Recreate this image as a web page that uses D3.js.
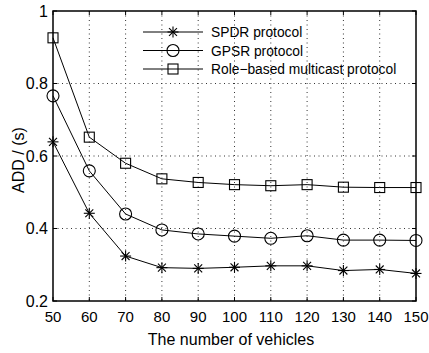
<!DOCTYPE html>
<html><head><meta charset="utf-8">
<script src="https://cdn.jsdelivr.net/npm/d3@7"></script>
<style>body{margin:0;background:#fff}svg{display:block}text{font-family:"Liberation Sans",Arial,sans-serif;fill:#000}</style>
</head><body><svg id="c" width="429" height="353"></svg>
<script>
const vehicles = [50,60,70,80,90,100,110,120,130,140,150];
const spdr = [0.639,0.442,0.324,0.292,0.290,0.293,0.297,0.297,0.284,0.287,0.276];
const gpsr = [0.766,0.559,0.440,0.396,0.385,0.379,0.373,0.380,0.368,0.368,0.367];
const role = [0.926,0.652,0.580,0.537,0.527,0.521,0.518,0.521,0.514,0.513,0.513];
const seriesNames = ["SPDR protocol","GPSR protocol","Role\u2212based multicast protocol"];
const xTicks = [50,60,70,80,90,100,110,120,130,140,150];
const yTicks = [0.2,0.4,0.6,0.8,1];

const svg = d3.select("#c");
const L=53,R=416,T=11,B=301;
const x = d3.scaleLinear().domain([50,150]).range([L,R]);
const y = d3.scaleLinear().domain([0.2,1]).range([B,T]);

// grid
const g = svg.append("g");
xTicks.slice(1,-1).forEach(v=>g.append("line").attr("x1",x(v)).attr("x2",x(v)).attr("y1",T).attr("y2",B)
  .attr("stroke","#333").attr("stroke-width",1).attr("stroke-dasharray","1,3.5"));
yTicks.slice(1,-1).forEach(v=>g.append("line").attr("y1",y(v)).attr("y2",y(v)).attr("x1",L).attr("x2",R)
  .attr("stroke","#333").attr("stroke-width",1).attr("stroke-dasharray","1,3.5"));

// ticks inward on all sides
xTicks.forEach(v=>{
  g.append("line").attr("x1",x(v)).attr("x2",x(v)).attr("y1",B).attr("y2",B-4).attr("stroke","#000");
  g.append("line").attr("x1",x(v)).attr("x2",x(v)).attr("y1",T).attr("y2",T+4).attr("stroke","#000");
});
yTicks.forEach(v=>{
  g.append("line").attr("y1",y(v)).attr("y2",y(v)).attr("x1",L).attr("x2",L+4).attr("stroke","#000");
  g.append("line").attr("y1",y(v)).attr("y2",y(v)).attr("x1",R).attr("x2",R-4).attr("stroke","#000");
});
g.append("rect").attr("x",L).attr("y",T).attr("width",R-L).attr("height",B-T)
  .attr("fill","none").attr("stroke","#000").attr("stroke-width",1.5);

// tick labels
xTicks.forEach(v=>svg.append("text").attr("x",x(v)).attr("y",322).attr("text-anchor","middle")
  .attr("font-size",15).text(v));
yTicks.forEach(v=>svg.append("text").attr("x",48).attr("y",y(v)+5.5).attr("text-anchor","end")
  .attr("font-size",16).text(v===1?"1":v.toFixed(1)));

svg.append("text").attr("x",231).attr("y",345).attr("text-anchor","middle").attr("font-size",16)
  .text("The number of vehicles");
svg.append("text").attr("transform","translate(24,160) rotate(-90)").attr("text-anchor","middle")
  .attr("font-size",16).text("ADD / (s)");

function marker(sel, type, cx, cy){
  if(type==="star"){
    const s=5.5, d=s*0.72;
    const p = sel.append("g").attr("stroke","#000").attr("stroke-width",1.1);
    p.append("line").attr("x1",cx).attr("x2",cx).attr("y1",cy-s).attr("y2",cy+s);
    p.append("line").attr("x1",cx-s).attr("x2",cx+s).attr("y1",cy).attr("y2",cy);
    p.append("line").attr("x1",cx-d).attr("x2",cx+d).attr("y1",cy-d).attr("y2",cy+d);
    p.append("line").attr("x1",cx-d).attr("x2",cx+d).attr("y1",cy+d).attr("y2",cy-d);
  } else if(type==="circle"){
    sel.append("circle").attr("cx",cx).attr("cy",cy).attr("r",6).attr("fill","none").attr("stroke","#000").attr("stroke-width",1.1);
  } else {
    sel.append("rect").attr("x",cx-5).attr("y",cy-5).attr("width",10).attr("height",10).attr("fill","none").attr("stroke","#000").attr("stroke-width",1.1);
  }
}

const data = [[spdr,"star"],[gpsr,"circle"],[role,"square"]];
const line = d3.line().x((d,i)=>x(vehicles[i])).y(d=>y(d));
data.forEach(([vals,type])=>{
  svg.append("path").attr("d",line(vals)).attr("fill","none").attr("stroke","#000").attr("stroke-width",1);
  const mg = svg.append("g");
  vals.forEach((v,i)=>marker(mg,type,x(vehicles[i]),y(v)));
});

// legend
const ly=[32,50.5,69];
data.forEach(([vals,type],i)=>{
  svg.append("line").attr("x1",143).attr("x2",203).attr("y1",ly[i]).attr("y2",ly[i]).attr("stroke","#000");
  marker(svg,type,173,ly[i]);
  svg.append("text").attr("x",211).attr("y",ly[i]+5).attr("font-size",13.8).text(seriesNames[i]);
});
</script></body></html>
